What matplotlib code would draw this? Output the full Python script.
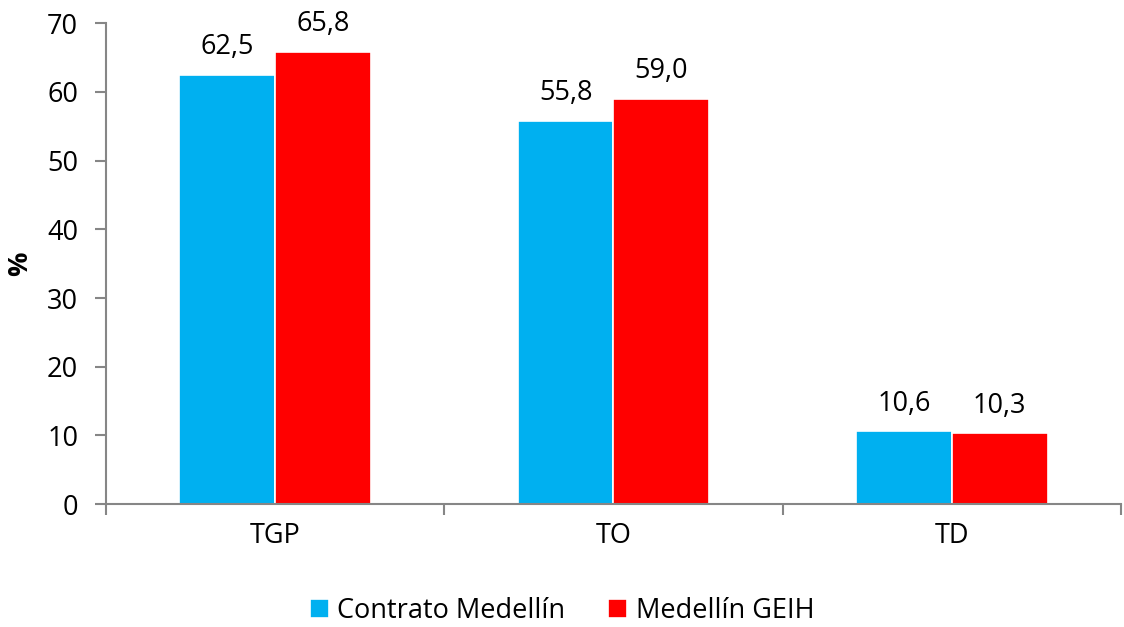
import matplotlib
matplotlib.use("Agg")
import matplotlib.pyplot as plt
import numpy as np

categories = ["TGP", "TO", "TD"]
series_names = ["Contrato Medellín", "Medellín GEIH"]
contrato = [62.5, 55.8, 10.6]
geih = [65.8, 59.0, 10.3]
colors = ["#00B0F0", "#FF0000"]
yticks = [0, 10, 20, 30, 40, 50, 60, 70]

plt.rcParams['font.family'] = ['Open Sans', 'DejaVu Sans']
FS = 19.5
fig = plt.figure(figsize=(11.24, 6.27), dpi=100)
ax = fig.add_axes([0.0943, 0.196, 0.903, 0.767])

x = np.arange(len(categories))
w = 0.283
b1 = ax.bar(x - w/2, contrato, w, color=colors[0], edgecolor="white", linewidth=1.2, label=series_names[0])
b2 = ax.bar(x + w/2, geih, w, color=colors[1], edgecolor="white", linewidth=1.2, label=series_names[1])

for bars, vals in ((b1, contrato), (b2, geih)):
    for r, v in zip(bars, vals):
        ax.text(r.get_x() + r.get_width()/2, v + 2.0, f"{v:.1f}".replace(".", ","),
                ha="center", va="bottom", fontsize=FS)

ax.set_xlim(-0.5, 2.5)
ax.set_ylim(0, 70)
ax.set_yticks(yticks)
ax.set_yticklabels([str(t) for t in yticks], fontsize=FS)
ax.set_xticks([-0.5, 0.5, 1.5, 2.5])
ax.set_xticklabels([])
ax.set_xticks(x, minor=True)
ax.set_xticklabels(categories, minor=True, fontsize=FS)
ax.tick_params(axis="x", which="minor", length=0, pad=13)
ax.tick_params(axis="x", which="major", length=8, width=1.5, color="#868686", direction="out")
ax.tick_params(axis="y", length=8, width=1.5, color="#868686", direction="out", pad=12)
for s in ["top", "right"]:
    ax.spines[s].set_visible(False)
for s in ["left", "bottom"]:
    ax.spines[s].set_color("#868686")
    ax.spines[s].set_linewidth(1.5)
ax.set_ylabel("%", fontsize=FS, fontweight="bold", labelpad=10)

fig.legend(handles=[b1, b2], labels=series_names, loc="center", bbox_to_anchor=(0.5, 0.025),
           ncol=2, frameon=False, fontsize=FS, handlelength=0.7, handleheight=0.7,
           handletextpad=0.3, columnspacing=1.6)

fig.savefig("out.png", dpi=100)
